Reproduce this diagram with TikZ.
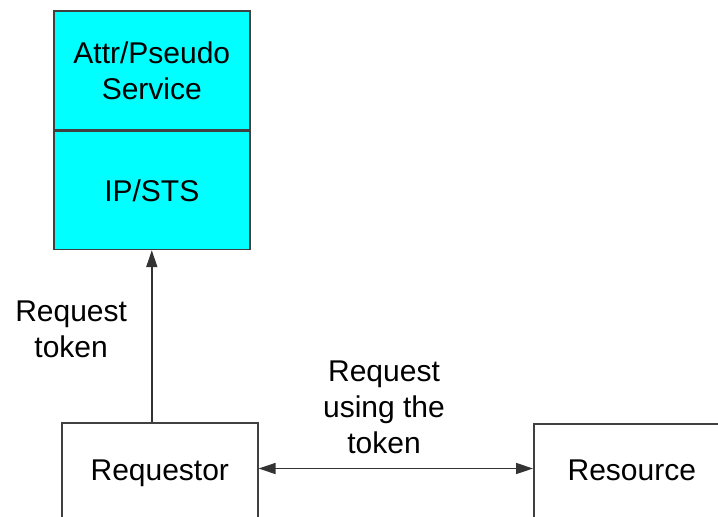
\documentclass[tikz,border=0pt]{standalone}
\usepackage{fontspec}
\setmainfont{Liberation Sans}
\usetikzlibrary{arrows.meta}
\definecolor{aqua}{RGB}{0,255,255}
\tikzset{
	box/.style={draw=black!75, line width=0.8pt, minimum width=98pt, inner sep=0pt, align=center},
	lbl/.style={inner sep=0pt, align=center, text=black},
	conn/.style={draw=black!80, line width=0.8pt},
}

\begin{document}
\begin{tikzpicture}[x=0.5pt, y=-0.5pt, font=\fontsize{15}{18}\selectfont, >={Triangle[length=8.5pt,width=5.5pt]}]
\useasboundingbox (0,0) rectangle (718,517);
\clip (0,0) rectangle (718,517);
\node[box, fill=aqua, minimum height=59.5pt, anchor=north west] (attr) at (53,10) {Attr/Pseudo\\Service};
\node[box, fill=aqua, minimum height=59pt, anchor=north] (ipsts) at (attr.south) {IP/STS};
\node[box, text height=29pt, text depth=40pt, anchor=north west] (req) at (61,422) {Requestor};
\node[box, text height=28.5pt, text depth=40pt, anchor=north west] (res) at (533,423) {Resource};
\draw[conn, ->] (ipsts.south |- req.north) -- node[lbl, pos=0.54, left=12pt] (reqtok) {Request\\token} (ipsts.south);
\draw[conn, <->] ([yshift=3.5pt]req.mid east) -- ([yshift=3.5pt]req.mid east -| res.west);
\node[lbl] (usetok) at (384,407) {Request\\using the\\token};
\end{tikzpicture}
\end{document}
